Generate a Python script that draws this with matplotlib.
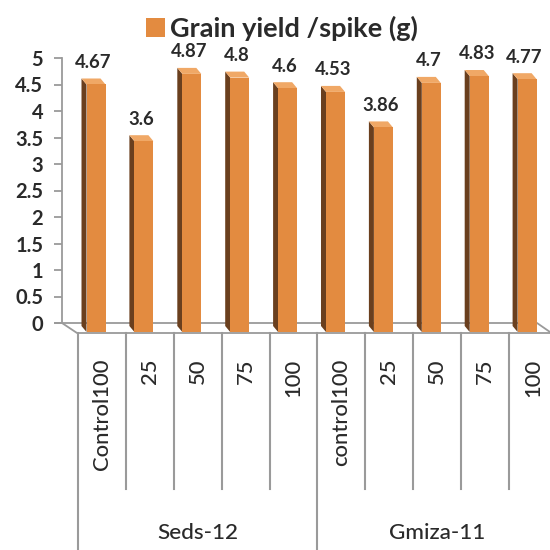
import matplotlib
matplotlib.use("Agg")
import matplotlib.pyplot as plt
from matplotlib import transforms
from matplotlib.patches import Polygon, Rectangle
from matplotlib.font_manager import FontProperties
from matplotlib.textpath import TextPath

plt.rcParams['font.family'] = ['Lato', 'DejaVu Sans']

# ---- data ----
categories = ['Control100', '25', '50', '75', '100', 'control100', '25', '50', '75', '100']
groups = ['Seds-12', 'Gmiza-11']
group_size = 5
values = [4.67, 3.6, 4.87, 4.8, 4.6, 4.53, 3.86, 4.7, 4.83, 4.77]
series_name = 'Grain yield /spike (g)'
yticks = [0, 0.5, 1, 1.5, 2, 2.5, 3, 3.5, 4, 4.5, 5]
ytick_labels = ['0', '0.5', '1', '1.5', '2', '2.5', '3', '3.5', '4', '4.5', '5']

# ---- style ----
W = H = 550
C_FRONT = '#E38B40'
C_SIDE = '#6A3F1E'
C_TOP = '#F0A866'
C_AX = '#9A9A9A'
C_TXT = '#2A2A2A'

fig = plt.figure(figsize=(5.5, 5.5), dpi=100)


def fit_size(text, target_px, weight='normal'):
    """font size (pt) so that text is about target_px wide at 100 dpi"""
    fp = FontProperties(family=['Lato', 'DejaVu Sans'], weight=weight, size=10)
    tp = TextPath((0, 0), text, prop=fp)
    ext = tp.get_extents()
    w_pt = ext.width  # in points at size 10
    w_px = w_pt * 100 / 72
    return 10 * target_px / w_px


FS_TICK = fit_size('4.5', 27, 'bold')
FS_VAL = fit_size('4.67', 36, 'bold')
FS_CAT = fit_size('Control100', 110, 'medium')
FS_GRP = fit_size('Seds-12', 79, 'medium')
FS_TITLE = fit_size(series_name, 246, 'bold')


def fx(px):
    return px / W


def fy(py):
    return 1 - py / H


# overlay axes in pixel coordinates for decoration
deco = fig.add_axes([0, 0, 1, 1], zorder=0)
deco.set_xlim(0, W)
deco.set_ylim(H, 0)
deco.axis('off')

XMIN, XMAX = -0.71, 9.478
# back wall axis (value axis)
ax2 = fig.add_axes([fx(62), fy(323), (W - 62) / W, 265 / H], zorder=1)
ax2.set_xlim(XMIN, XMAX)
ax2.set_ylim(0, 5)
ax2.patch.set_alpha(0)
for s in ['top', 'right', 'bottom']:
    ax2.spines[s].set_visible(False)
ax2.spines['left'].set_color(C_AX)
ax2.spines['left'].set_linewidth(1.3)
ax2.set_xticks([])
ax2.set_yticks(yticks)
ax2.set_yticklabels(ytick_labels, fontsize=FS_TICK, fontweight='bold', color=C_TXT)
ax2.tick_params(axis='y', direction='out', length=5.5, width=1.3, color=C_AX, pad=8)

# bar axes (front plane)
ax = fig.add_axes([fx(62), fy(332), (W - 62) / W, 265 / H], zorder=2)
ax.set_xlim(XMIN, XMAX)
ax.set_ylim(0, 5)
ax.patch.set_alpha(0)
ax.axis('off')

blend = transforms.blended_transform_factory(ax.transData, deco.transData)

# floor (3D)
x_floor_back_r = 537
deco.plot([62, 77, W], [323, 333, 333], color=C_AX, lw=1.3, clip_on=False)
deco.plot([62, x_floor_back_r, W], [323, 323, 332], color=C_AX, lw=1.3, clip_on=False)
deco.plot([55, 62], [323, 323], color=C_AX, lw=1.3)

# 3D bars
xs = list(range(len(values)))
bw = 0.397
px_per_x = (W - 62) / (XMAX - XMIN)
px_per_y = 265 / 5
dx = 5 / px_per_x
dy = 6 / px_per_y
bars = ax.bar(xs, values, width=bw, color=C_FRONT, zorder=3, clip_on=False)
for x, v in zip(xs, values):
    xl = x - bw / 2
    xr = x + bw / 2
    side = Polygon([(xl, 0), (xl, v), (xl - dx, v + dy), (xl - dx, dy)],
                   closed=True, facecolor=C_SIDE, edgecolor='none', zorder=2, clip_on=False)
    top = Polygon([(xl, v), (xr, v), (xr - dx, v + dy), (xl - dx, v + dy)],
                  closed=True, facecolor=C_TOP, edgecolor='none', zorder=2, clip_on=False)
    ax.add_patch(side)
    ax.add_patch(top)
    ax.annotate(f'{v:g}', (x - dx / 2, v), xytext=(0, 12), textcoords='offset points',
                ha='center', va='baseline', fontsize=FS_VAL, fontweight='bold', color=C_TXT,
                annotation_clip=False)

# category cells
n = len(categories)
b0 = -0.376
for k in range(n + 1):
    xb = b0 + k
    bottom = 550 if k % group_size == 0 else 489
    ax.plot([xb, xb], [333, bottom], transform=blend, color=C_AX, lw=1.5, clip_on=False)
for i, c in enumerate(categories):
    ax.text(b0 + i + 0.5, 359, c, transform=blend, rotation=90, ha='center', va='top',
            fontsize=FS_CAT, fontweight='medium', color=C_TXT)
for g, name in enumerate(groups):
    xc = b0 + g * group_size + group_size / 2
    ax.text(xc, 533, name, transform=blend, ha='center', va='center', fontsize=FS_GRP,
            fontweight='medium', color=C_TXT)

# legend (top)
deco.add_patch(Rectangle((146, 18), 19, 19, facecolor=C_FRONT, edgecolor='none'))
deco.text(170, 28, series_name, ha='left', va='center', fontsize=FS_TITLE, fontweight='bold',
          color=C_TXT)

fig.savefig('out.png', dpi=100)
